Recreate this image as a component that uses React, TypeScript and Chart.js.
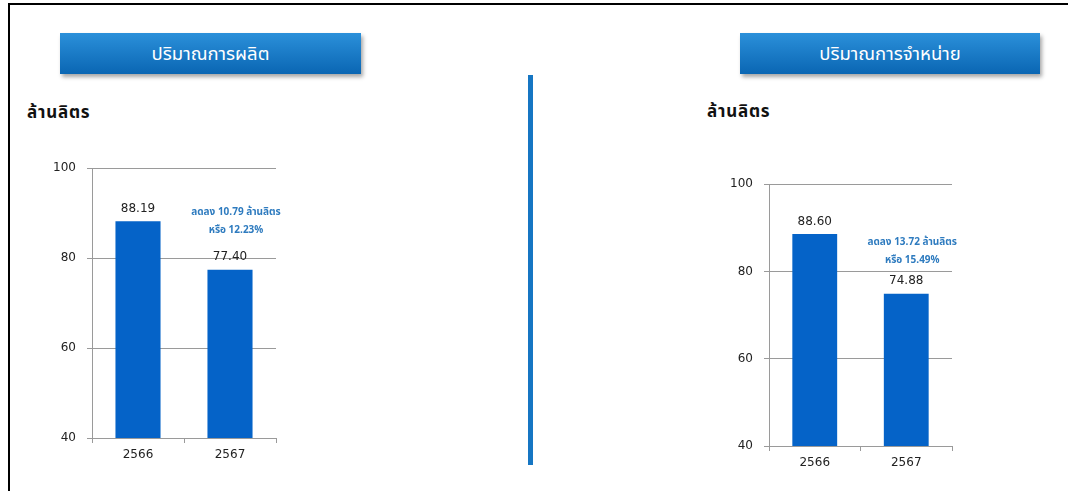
import React, { useEffect, useRef } from "react";
import Chart from "chart.js/auto";

// ---------- data ----------
const categories = ["2566", "2567"];
const productionValues = [88.19, 77.4];
const salesValues = [88.6, 74.88];
const yMin = 40;
const yMax = 100;
const yStep = 20;
const productionTitle = "ปริมาณการผลิต";
const salesTitle = "ปริมาณการจำหน่าย";
const unitLabel = "ล้านลิตร";
const productionNote = ["ลดลง 10.79 ล้านลิตร", "หรือ 12.23%"];
const salesNote = ["ลดลง 13.72 ล้านลิตร", "หรือ 15.49%"];
// value (on the y scale) at which each note's first line sits
const productionNoteAt = 90;
const salesNoteAt = 86.5;

const FONT = "'DejaVu Sans', Verdana, sans-serif";
const THAI_FONT = "Tahoma, 'Noto Sans Thai', 'Noto Sans', 'DejaVu Sans', sans-serif";
const BAR_COLOR = "#0563c8";
const GRID_COLOR = "#9a9a9a";
const NOTE_COLOR = "#2e7bbf";

type PanelProps = {
  values: number[];
  note: string[];
  noteAt: number;
  left: number;
  top: number;
  width: number;
  height: number;
  yAxisWidth: number;
  padTop: number;
  padRight: number;
  xAxisHeight: number;
};

function BarPanel(p: PanelProps) {
  const ref = useRef<HTMLCanvasElement | null>(null);
  useEffect(() => {
    if (!ref.current) return;
    const labelPlugin = {
      id: "valueLabels",
      afterDatasetsDraw(chart: any) {
        const ctx = chart.ctx;
        const meta = chart.getDatasetMeta(0);
        ctx.save();
        ctx.font = `12px ${FONT}`;
        ctx.fillStyle = "#222";
        ctx.textAlign = "center";
        ctx.textBaseline = "middle";
        meta.data.forEach((bar: any, i: number) => {
          ctx.fillText(p.values[i].toFixed(2), bar.x, bar.y - 12.5);
        });
        // note
        const last = meta.data[meta.data.length - 1];
        const y0 = chart.scales.y.getPixelForValue(p.noteAt);
        ctx.font = `bold 10px ${THAI_FONT}`;
        ctx.fillStyle = NOTE_COLOR;
        p.note.forEach((line, i) => {
          ctx.fillText(line, last.x + 6, y0 + i * 18);
        });
        ctx.restore();
      },
    };
    const chart = new Chart(ref.current, {
      type: "bar",
      data: {
        labels: categories,
        datasets: [
          {
            data: p.values,
            backgroundColor: BAR_COLOR,
            borderWidth: 0,
            categoryPercentage: 1,
            barPercentage: 0.49,
          },
        ],
      },
      options: {
        responsive: false,
        animation: false,
        devicePixelRatio: 1,
        layout: { padding: { top: p.padTop, right: p.padRight, left: 0, bottom: 0 } },
        plugins: { legend: { display: false }, tooltip: { enabled: false }, title: { display: false } },
        scales: {
          x: {
            grid: { offset: true, drawOnChartArea: false, drawTicks: true, tickLength: 5, color: GRID_COLOR },
            border: { display: true, color: GRID_COLOR },
            ticks: { font: { family: FONT, size: 12 }, color: "#222", padding: 5 },
            afterFit: (s: any) => {
              s.height = p.xAxisHeight;
            },
          },
          y: {
            min: yMin,
            max: yMax,
            ticks: { stepSize: yStep, font: { family: FONT, size: 12 }, color: "#222", padding: 11 },
            grid: { color: GRID_COLOR, tickLength: 5 },
            border: { display: true, color: GRID_COLOR },
            afterFit: (s: any) => {
              s.width = p.yAxisWidth;
            },
          },
        },
      },
      plugins: [labelPlugin],
    } as any);
    return () => chart.destroy();
  }, []);
  return (
    <canvas
      ref={ref}
      width={p.width}
      height={p.height}
      style={{ position: "absolute", left: p.left, top: p.top, width: p.width, height: p.height }}
    />
  );
}

const headerStyle = (left: number, width: number): React.CSSProperties => ({
  position: "absolute",
  left,
  top: 33,
  width,
  height: 41,
  background: "linear-gradient(#2b90da, #0a66b3)",
  boxShadow: "2px 3px 4px rgba(0,0,0,0.35)",
  color: "#fff",
  fontFamily: THAI_FONT,
  fontSize: 18.5,
  display: "flex",
  alignItems: "center",
  justifyContent: "center",
});

const unitStyle = (left: number, top: number): React.CSSProperties => ({
  position: "absolute",
  left,
  top,
  fontFamily: THAI_FONT,
  fontWeight: "bold",
  fontSize: 17,
  letterSpacing: "0.8px",
  color: "#111",
  lineHeight: "20px",
});

export default function App() {
  return (
    <div
      style={{
        position: "fixed",
        left: 0,
        top: 0,
        width: 1068,
        height: 491,
        background: "#fff",
        overflow: "hidden",
      }}
    >
      <div
        style={{
          position: "absolute",
          left: 8,
          top: 3,
          width: 1100,
          height: 520,
          borderTop: "2px solid #000",
          borderLeft: "2px solid #000",
        }}
      />
      <div style={headerStyle(60, 301)}>{productionTitle}</div>
      <div style={headerStyle(740, 300)}>{salesTitle}</div>
      <div style={unitStyle(27, 103)}>{unitLabel}</div>
      <div style={unitStyle(707, 102)}>{unitLabel}</div>
      <div
        style={{ position: "absolute", left: 528, top: 75, width: 5, height: 390, background: "#1676c3" }}
      />
      <BarPanel
        values={productionValues}
        note={productionNote}
        noteAt={productionNoteAt}
        left={30}
        top={150}
        width={270}
        height={325}
        yAxisWidth={62}
        padTop={16.7}
        padRight={24}
        xAxisHeight={37}
      />
      <BarPanel
        values={salesValues}
        note={salesNote}
        noteAt={salesNoteAt}
        left={707}
        top={166}
        width={269}
        height={317}
        yAxisWidth={62}
        padTop={16.3}
        padRight={24}
        xAxisHeight={37}
      />
    </div>
  );
}
